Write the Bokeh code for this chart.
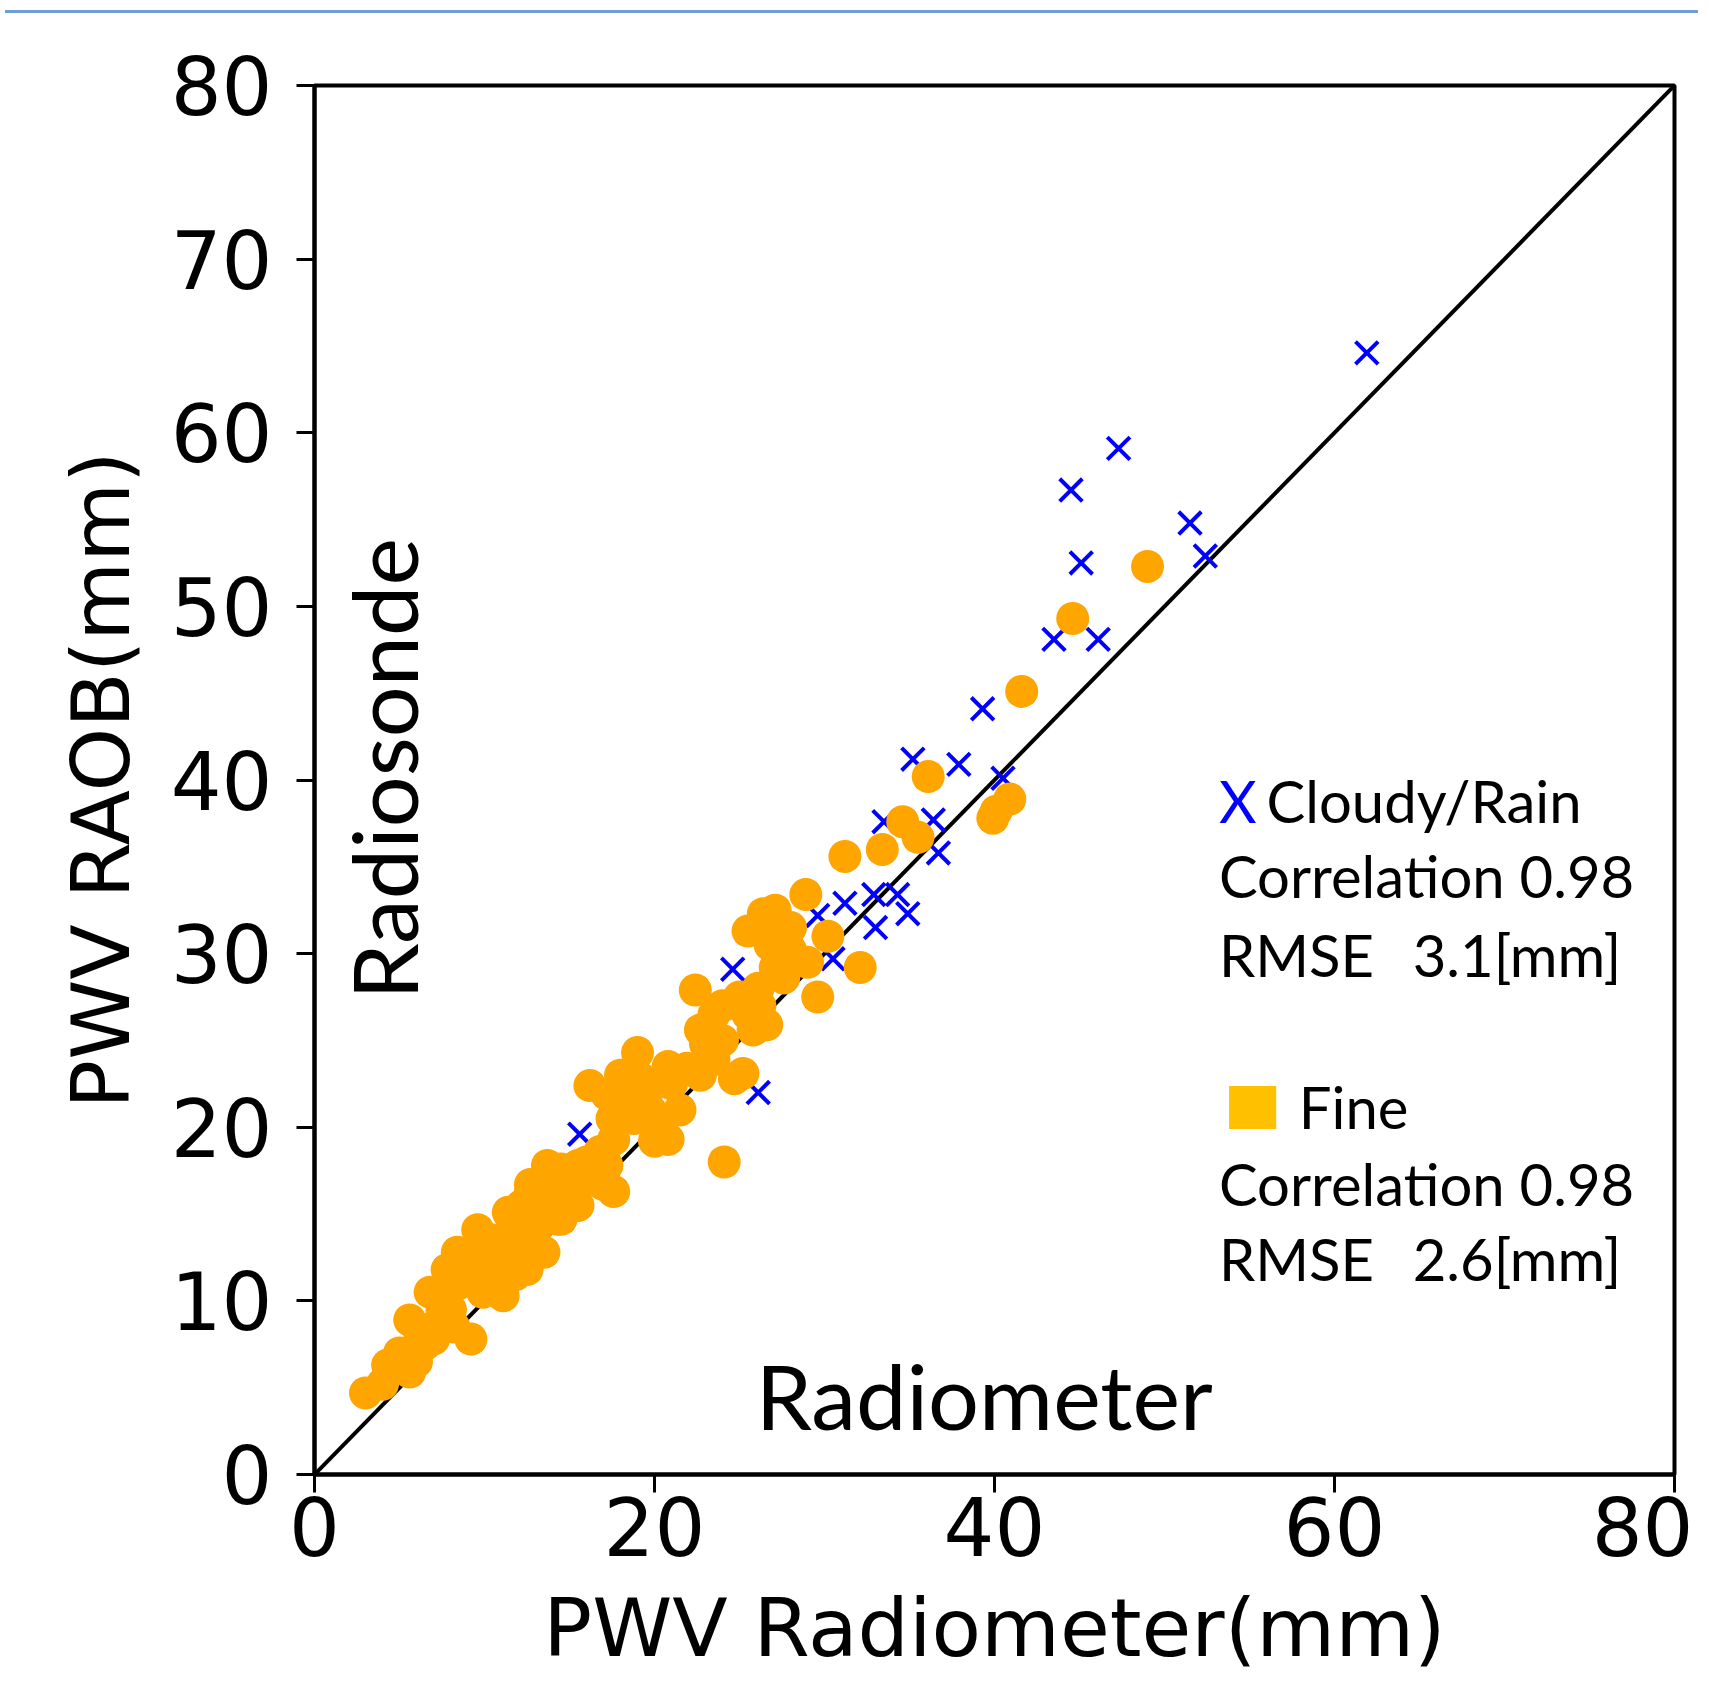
import math
from bokeh.plotting import figure
from bokeh.models import Label, BoxAnnotation, FixedTicker, Range1d, Div
from bokeh.layouts import column
from bokeh.embed import file_html
from bokeh.resources import INLINE

# ---- data ----
fine_x = [3.0, 4.0, 4.3, 5.0, 5.6, 5.8, 5.6, 6.5, 6.8, 7.2, 7.5, 7.8, 8.0, 8.4, 9.0, 9.2, 9.9, 9.6,
          10.5, 10.5, 11.1, 11.4, 11.7, 12.0, 12.5, 12.7, 12.7, 13.0, 13.7, 13.7, 14.3, 14.5, 14.5,
          15.5, 15.6, 16.0, 16.8, 17.0, 17.2, 17.6, 17.6,
          4.8, 6.0, 6.2, 7.0, 8.2, 8.5, 9.5, 10.0, 10.8, 11.5, 12.2, 13.0, 13.5, 14.0, 15.0, 15.5,
          16.5, 11.8,
          16.2, 17.2, 18.4, 18.8, 19.2, 19.0, 19.8, 20.0, 20.8, 21.0, 21.9, 24.1,
          17.5, 18.0, 19.5, 20.2, 21.5, 20.8,
          22.4, 22.7, 22.7, 23.5, 23.5, 24.0, 24.7, 25.2, 25.1, 25.8, 26.1, 26.6, 25.0,
          24.0, 23.0, 25.5, 26.2, 27.6, 28.0, 26.5,
          25.5, 26.4, 26.8, 27.1, 27.1, 27.5, 28.0,
          28.9, 29.0, 29.6, 30.2, 32.1, 31.2, 33.4, 34.6, 35.5, 36.1,
          39.9, 40.9, 40.1, 41.6, 44.6, 49.0]
fine_y = [4.7, 5.2, 6.3, 7.0, 5.9, 7.0, 8.9, 7.5, 10.5, 8.6, 9.5, 11.8, 9.5, 12.8, 12.0, 7.8, 10.5, 14.1,
          11.8, 13.5, 10.3, 15.1, 14.7, 13.0, 11.8, 16.7, 16.3, 14.0, 17.8, 16.8, 14.7, 14.7, 17.6,
          15.5, 16.8, 18.0, 18.6, 16.7, 17.8, 16.3, 19.3,
          6.5, 6.5, 8.0, 7.8, 8.5, 11.0, 12.5, 11.0, 12.5, 13.5, 15.5, 15.0, 12.8, 15.5, 17.0, 17.8,
          17.2, 11.5,
          22.4, 21.9, 21.3, 20.5, 22.8, 24.3, 20.9, 19.2, 19.3, 22.5, 23.4, 18.0,
          20.5, 23.0, 21.8, 20.0, 21.0, 23.5,
          27.9, 25.6, 23.0, 23.9, 26.5, 25.0, 22.8, 23.1, 27.0, 25.6, 28.0, 25.9, 27.5,
          27.0, 24.8, 26.5, 27.0, 28.6, 30.2, 31.5,
          31.3, 32.3, 30.5, 32.5, 29.2, 30.5, 31.5,
          33.4, 29.5, 27.5, 31.0, 29.2, 35.6, 36.0, 37.6, 36.7, 40.2,
          37.8, 38.9, 38.2, 45.1, 49.3, 52.3]

cloudy_x = [61.9, 47.3, 44.5, 51.5, 45.1, 52.4, 43.5, 46.1, 39.3, 35.2, 37.9, 40.5,
            33.5, 36.4, 36.7, 31.2, 32.9, 34.3, 34.9, 33.0, 29.6, 30.5, 24.6, 26.1, 15.6]
cloudy_y = [64.6, 59.1, 56.7, 54.8, 52.5, 52.9, 48.1, 48.1, 44.1, 41.2, 40.9, 40.1,
            37.6, 37.7, 35.8, 32.9, 33.4, 33.4, 32.3, 31.5, 32.2, 29.7, 29.1, 22.0, 19.6]

x_ticks = [0, 20, 40, 60, 80]
y_ticks = [0, 10, 20, 30, 40, 50, 60, 70, 80]
one_to_one = [0, 80]

cloudy_stats = ["Correlation 0.98", "RMSE", "3.1[mm]"]
fine_stats = ["Correlation 0.98", "RMSE", "2.6[mm]"]

TXT = "Lato"
AX = "DejaVu Sans"

p = figure(width=1693, height=1661, output_backend="svg", toolbar_location=None,
           x_range=Range1d(0, 80), y_range=Range1d(0, 80),
           min_border_left=314, min_border_right=19, min_border_top=67, min_border_bottom=205,
           background_fill_color="white", border_fill_color="white")
p.grid.visible = False
p.outline_line_color = "black"
p.outline_line_width = 4

p.line(one_to_one, one_to_one, line_color="black", line_width=4)
p.scatter(cloudy_x + fine_x, cloudy_y + fine_y, marker="x", size=32,
          line_color="#0000ff", line_width=4)
p.scatter(fine_x, fine_y, marker="circle", size=33, fill_color="#ffa500", line_color=None)

for ax, ticks in ((p.xaxis, x_ticks), (p.yaxis, y_ticks)):
    ax.ticker = FixedTicker(ticks=ticks)
    ax.minor_tick_line_color = None
    ax.major_tick_in = 0
    ax.major_tick_out = 18
    ax.major_tick_line_width = 3
    ax.axis_line_width = 4
    ax.major_label_text_font = AX
    ax.major_label_text_font_size = "80px"
    ax.major_label_text_color = "black"
    ax.axis_label_text_font = AX
    ax.axis_label_text_font_size = "81px"
    ax.axis_label_text_font_style = "normal"
    ax.axis_label_text_color = "black"

p.xaxis.axis_label = "PWV Radiometer(mm)"
p.yaxis.axis_label = "PWV RAOB(mm)"
p.xaxis.major_label_standoff = 4
p.xaxis.axis_label_standoff = 22
p.yaxis.major_label_standoff = 24
p.yaxis.axis_label_standoff = 20

# in-plot texts
p.add_layout(Label(x=4.0, y=27.35, text="Radiosonde", angle=math.pi / 2,
                   text_font=TXT, text_font_size="90px", text_baseline="alphabetic",
                   text_align="left", text_color="black"))
p.add_layout(Label(x=25.95, y=4.6, text="Radiometer", text_font=TXT, text_font_size="90px",
                   text_baseline="alphabetic", text_color="black"))

fs = "58px"
p.add_layout(Label(x=53.2, y=38.84, text="X", text_font=TXT, text_font_size=fs,
                   text_baseline="alphabetic", text_color="#0000ff"))
p.add_layout(Label(x=56.0, y=38.84, text="Cloudy/Rain", text_font=TXT, text_font_size=fs,
                   text_baseline="alphabetic", text_color="black"))
p.add_layout(Label(x=53.2, y=34.52, text=cloudy_stats[0], text_font=TXT, text_font_size=fs,
                   text_baseline="alphabetic", text_color="black"))
p.add_layout(Label(x=53.2, y=29.94, text=cloudy_stats[1], text_font=TXT, text_font_size=fs,
                   text_baseline="alphabetic", text_color="black"))
p.add_layout(Label(x=64.6, y=29.94, text=cloudy_stats[2], text_font=TXT, text_font_size=fs,
                   text_baseline="alphabetic", text_color="black"))

p.add_layout(BoxAnnotation(left=53.8, right=56.57, bottom=19.9, top=22.38,
                           fill_color="#ffc000", fill_alpha=1.0, line_color=None))
p.add_layout(Label(x=57.9, y=21.17, text="Fine", text_font=TXT, text_font_size=fs,
                   text_baseline="alphabetic", text_color="black"))
p.add_layout(Label(x=53.2, y=16.76, text=fine_stats[0], text_font=TXT, text_font_size=fs,
                   text_baseline="alphabetic", text_color="black"))
p.add_layout(Label(x=53.2, y=12.43, text=fine_stats[1], text_font=TXT, text_font_size=fs,
                   text_baseline="alphabetic", text_color="black"))
p.add_layout(Label(x=64.6, y=12.43, text=fine_stats[2], text_font=TXT, text_font_size=fs,
                   text_baseline="alphabetic", text_color="black"))

top_rule = Div(text="", width=1693, height=8,
               styles={"border-bottom": "3px solid #6f9fd8", "box-sizing": "border-box"})

layout = column(top_rule, p, spacing=0)
open("out.html", "w").write(file_html(layout, INLINE))
